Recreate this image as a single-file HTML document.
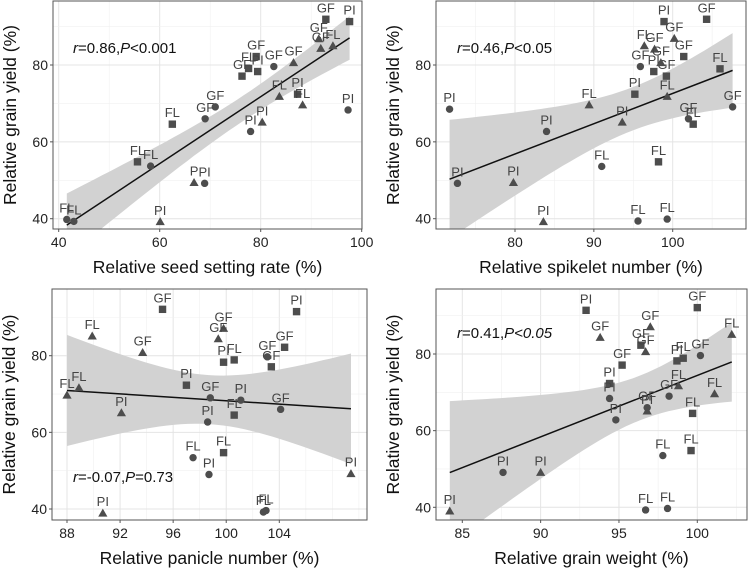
<!DOCTYPE html>
<html><head><meta charset="utf-8"><style>
body{margin:0;background:#fff}
svg{display:block;font-family:"Liberation Sans",Arial,sans-serif}
</style></head><body>
<svg id="chart" width="749" height="569" viewBox="0 0 749 569"></svg>
<script>
// ---- data (per panel) ----
const shapesP1=['s','s','s','s','s','s','s','s','s','t','t','t','t','t','t','t','t','t','c','c','c','c','c','c','c','c','c'];
const labelsP1=['GF','PI','GF','FL','PI','GF','PI','FL','FL','GF','FL','GF','GF','FL','FL','PI','P','PI','GF','PI','GF','GF','PI','FL','PI','FL','FL'];
const xP1=[92.9,97.6,79.1,77.6,79.4,76.3,87.3,62.5,55.6,91.9,94.3,91.5,86.5,83.7,88.3,80.3,66.8,60.1,82.6,97.3,71.0,69.0,78.0,58.2,68.9,41.6,43.0];
const yP1=[91.9,91.3,82.2,79.1,78.3,77.1,72.4,64.6,54.8,84.3,85.0,86.8,80.6,71.8,69.6,65.1,49.4,39.2,79.6,68.3,69.1,66.0,62.7,53.7,49.2,39.8,39.3];

const shapesP2=['s','s','s','s','s','s','s','s','s','t','t','t','t','t','t','t','t','t','c','c','c','c','c','c','c','c','c'];
const labelsP2=['PI','GF','GF','PI','GF','FL','PI','FL','FL','FL','GF','GF','GF','FL','FL','PI','PI','PI','GF','GF','GF','PI','PI','FL','PI','FL','FL'];
const xP2=[98.9,104.3,101.4,97.6,99.2,106.0,95.2,102.6,98.2,96.4,97.7,100.2,98.5,99.3,89.4,93.6,79.8,83.6,95.9,107.6,102.0,71.7,84.0,91.0,72.7,95.6,99.3];
const yP2=[91.3,91.9,82.2,78.3,77.1,79.0,72.4,64.6,54.8,85.0,84.1,86.9,80.6,71.8,69.6,65.1,49.4,39.2,79.6,69.1,66.0,68.5,62.7,53.6,49.2,39.4,39.9];

const shapesP3=['s','s','s','s','s','s','s','s','s','t','t','t','t','t','t','t','t','t','c','c','c','c','c','c','c','c','c'];
const labelsP3=['GF','PI','GF','PI','FL','GF','PI','FL','FL','FL','GF','GF','GF','FL','FL','PI','PI','PI','GF','GF','PI','GF','PI','FL','PI','FL','FL'];
const xP3=[95.2,105.3,104.4,99.8,100.6,103.4,97.0,100.6,99.8,89.9,93.7,99.8,99.4,88.9,88.0,92.1,109.4,90.7,103.1,98.8,101.1,104.1,98.6,97.5,98.7,102.8,103.0];
const yP3=[92.1,91.5,82.2,78.3,78.9,77.1,72.3,64.5,54.7,85.1,80.8,87.1,84.4,71.6,69.7,65.1,49.2,38.9,79.7,69.0,68.4,66.0,62.7,53.4,49.0,39.2,39.6];

const shapesP4=['s','s','s','s','s','s','s','s','s','t','t','t','t','t','t','t','t','t','c','c','c','c','c','c','c','c','c'];
const labelsP4=['PI','GF','GF','GF','PI','FL','PI','FL','FL','GF','GF','GF','FL','FL','FL','PI','PI','PI','GF','PI','GF','GF','PI','FL','PI','FL','FL'];
const xP4=[92.9,100.0,96.4,95.2,98.7,99.1,94.4,99.7,99.6,93.8,97.0,96.7,98.8,101.1,102.2,96.8,90.0,84.2,100.2,94.4,98.2,96.8,94.8,97.8,87.6,96.7,98.1];
const yP4=[91.4,92.1,82.3,77.1,78.2,78.9,72.3,64.5,54.8,84.3,87.1,80.6,71.7,69.6,85.1,65.1,49.1,39.0,79.6,68.4,69.0,66.0,62.8,53.5,49.1,39.3,39.7];

const xTicksP1=[40,60,80,100], xTicksP2=[80,90,100], xTicksP3=[88,92,96,100,104], xTicksP4=[85,90,95,100];
const yTicks=[40,60,80];

const NS='http://www.w3.org/2000/svg';
const svg=document.getElementById('chart');
function mk(tag,attrs,parent){const e=document.createElementNS(NS,tag);for(const k in attrs)e.setAttribute(k,attrs[k]);(parent||svg).appendChild(e);return e;}

const panels=[
 {id:'p1',L:53,R:362,T:1,B:229,x0:40,px0:58.7,x1:100,px1:361.7,y0:40,py0:218.7,y1:80,py1:65,xs:xP1,ys:yP1,sh:shapesP1,lb:labelsP1,xt:xTicksP1,minor:true,
  title:'Relative seed setting rate (%)',ann:['0.86','<0.001',false],ax:73,ay:53},
 {id:'p2',L:436,R:746,T:1,B:229,x0:80,px0:515,x1:100,px1:672.7,y0:40,py0:218.7,y1:80,py1:65,xs:xP2,ys:yP2,sh:shapesP2,lb:labelsP2,xt:xTicksP2,
  title:'Relative spikelet number (%)',ann:['0.46','<0.05',false],ax:457,ay:53},
 {id:'p3',L:52,R:367,T:289,B:520,x0:88,px0:67,x1:104,px1:279.3,y0:40,py0:509,y1:80,py1:355.7,xs:xP3,ys:yP3,sh:shapesP3,lb:labelsP3,xt:xTicksP3,
  title:'Relative panicle number (%)',ann:['-0.07','=0.73',false],ax:73,ay:482},
 {id:'p4',L:436,R:747,T:289,B:520,x0:85,px0:462.3,x1:100,px1:697.3,y0:40,py0:507.3,y1:80,py1:354,xs:xP4,ys:yP4,sh:shapesP4,lb:labelsP4,xt:xTicksP4,
  title:'Relative grain weight (%)',ann:['0.41','<0.05',true],ax:457,ay:338}
];

panels.forEach((p,pi)=>{
  const g=mk('g',{});
  
  
  const sx=v=>p.px0+(v-p.x0)*(p.px1-p.px0)/(p.x1-p.x0);
  const sy=v=>p.py0+(v-p.y0)*(p.py1-p.py0)/(p.y1-p.y0);
  const cid='clip'+pi;
  const cp=mk('clipPath',{id:cid},g);mk('rect',{x:p.L,y:p.T,width:p.R-p.L,height:p.B-p.T},cp);
  mk('rect',{x:p.L,y:p.T,width:p.R-p.L,height:p.B-p.T,fill:'#fff'},g);
  // grid
  const xstep=p.xt[1]-p.xt[0];
  for(let v=p.xt[0]-xstep*1.5;v<=p.xt[p.xt.length-1]+xstep*1.5;v+=xstep/2){
    const X=sx(v); if(X<p.L||X>p.R)continue;
    const major=p.xt.includes(Math.round(v*100)/100);
    mk('line',{x1:X,x2:X,y1:p.T,y2:p.B,stroke:major?'#e4e4e4':'#f0f0f0','stroke-width':major?1:0.6},g);
  }
  for(let v=30;v<=100;v+=10){
    const Y=sy(v); if(Y<p.T||Y>p.B)continue;
    const major=yTicks.includes(v);
    mk('line',{x1:p.L,x2:p.R,y1:Y,y2:Y,stroke:major?'#e4e4e4':'#f0f0f0','stroke-width':major?1:0.6},g);
  }
  // regression + CI
  const n=p.xs.length;let mx=0,my=0;p.xs.forEach((v,i)=>{mx+=v;my+=p.ys[i];});mx/=n;my/=n;
  let sxx=0,sxy=0;p.xs.forEach((v,i)=>{sxx+=(v-mx)**2;sxy+=(v-mx)*(p.ys[i]-my);});
  const b=sxy/sxx,a=my-b*mx;let sse=0;p.xs.forEach((v,i)=>{sse+=(p.ys[i]-a-b*v)**2;});
  const s=Math.sqrt(sse/(n-2)),t=2.06;
  const xmin=Math.min(...p.xs),xmax=Math.max(...p.xs);
  const up=[],lo=[];
  for(let k=0;k<=40;k++){const x=xmin+(xmax-xmin)*k/40;const h=t*s*Math.sqrt(1/n+(x-mx)**2/sxx);const yy=a+b*x;
    up.push(sx(x).toFixed(1)+','+sy(yy+h).toFixed(1));lo.unshift(sx(x).toFixed(1)+','+sy(yy-h).toFixed(1));}
  const band=mk('polygon',{points:up.concat(lo).join(' '),fill:'#d2d2d2','clip-path':'url(#'+cid+')'},g);
  
  
  const rl=mk('line',{x1:sx(xmin),y1:sy(a+b*xmin),x2:sx(xmax),y2:sy(a+b*xmax),stroke:'#111','stroke-width':1.5},g);
  
  
  // points
  p.xs.forEach((v,i)=>{
    const X=sx(v),Y=sy(p.ys[i]);let m;
    if(p.sh[i]==='c')m=mk('circle',{cx:X,cy:Y,r:3.7,fill:'#4d4d4d'},g);
    else if(p.sh[i]==='s')m=mk('rect',{x:X-3.7,y:Y-3.7,width:7.4,height:7.4,fill:'#4d4d4d'},g);
    else m=mk('polygon',{points:`${X},${Y-4.6} ${X-4.6},${Y+3.4} ${X+4.6},${Y+3.4}`,fill:'#4d4d4d'},g);
    
    
    const tl=mk('text',{x:X,y:Y-7,'font-size':13,'text-anchor':'middle',fill:'#444'},g);tl.textContent=p.lb[i];
    
    
  });
  // border
  mk('rect',{x:p.L,y:p.T,width:p.R-p.L,height:p.B-p.T,fill:'none',stroke:'#555','stroke-width':1},g);
  // ticks
  p.xt.forEach(v=>{const X=sx(v);mk('line',{x1:X,x2:X,y1:p.B,y2:p.B+3,stroke:'#555'},g);
    const tt=mk('text',{x:X,y:p.B+18,'font-size':14,'text-anchor':'middle',fill:'#222'},g);tt.textContent=v;
    
    });
  yTicks.forEach(v=>{const Y=sy(v);mk('line',{x1:p.L-3,x2:p.L,y1:Y,y2:Y,stroke:'#555'},g);
    const tt=mk('text',{x:p.L-5,y:Y+5,'font-size':14,'text-anchor':'end',fill:'#222'},g);tt.textContent=v;
    
    });
  const xt=mk('text',{x:(p.L+p.R)/2,y:p.B+44,'font-size':17.5,'text-anchor':'middle',fill:'#111'},g);xt.textContent=p.title;
  
  
  const yc=(p.T+p.B)/2,yx=p.L-37;
  const yt=mk('text',{x:yx,y:yc,'font-size':17.5,'text-anchor':'middle',fill:'#111',transform:`rotate(-90 ${yx} ${yc})`},g);yt.textContent='Relative grain yield (%)';
  
  
  const an=mk('text',{x:p.ax,y:p.ay,'font-size':15,fill:'#111'},g);
  
  
  an.innerHTML=`<tspan font-style="italic">r</tspan>=${p.ann[0]},<tspan font-style="italic">P</tspan>`+(p.ann[2]?`<tspan font-style="italic">${p.ann[1].replace('<','&lt;')}</tspan>`:p.ann[1].replace('<','&lt;'));
});
</script>
</body></html>
